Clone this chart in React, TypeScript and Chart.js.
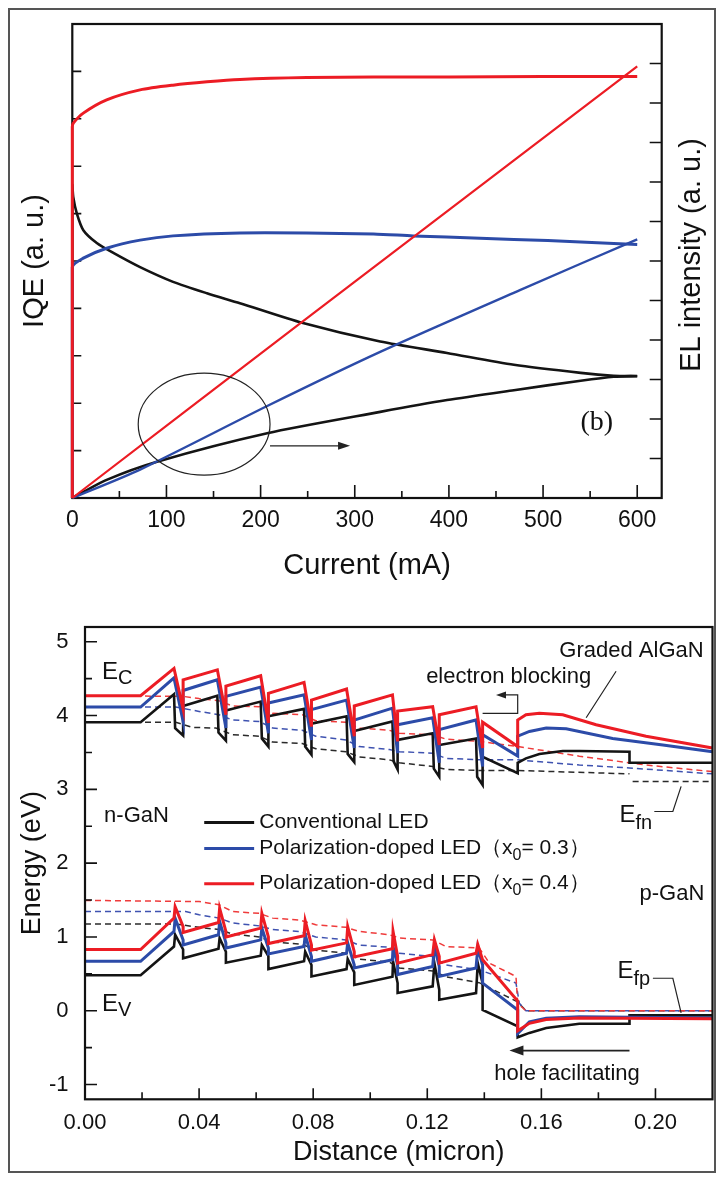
import React, { useEffect, useRef } from 'react';
import { Chart, registerables } from 'chart.js';

Chart.register(...registerables);

const SANS = '"Liberation Sans", Arial, Helvetica, sans-serif';
const SERIF = '"Liberation Serif", "Times New Roman", serif';
const RED = '#ec1c24';
const BLUE = '#2c4ba8';
const BLACK = '#141414';
const RED_D = '#ef3b3b';
const BLUE_D = '#3e52b0';
const BLACK_D = '#2a2a2a';
const INK = '#111111';

// ---------- Panel (b): IQE and EL intensity vs current ----------
const currentTicks = [0, 100, 200, 300, 400, 500, 600];
const currentMinorTicks = [50, 150, 250, 350, 450, 550];
const iqeTicks = [1, 2, 3, 4, 5, 6, 7, 8, 9];
const elTicks = [1, 2, 3, 4, 5, 6, 7, 8, 9, 10, 11];

const iqeRedCurrent = [0, 0, 1.1, 11.7, 36.5, 72, 107, 143, 178, 249, 320, 400, 500, 600];
const iqeRedValue = [0, 7.83, 7.91, 8.12, 8.4, 8.61, 8.71, 8.78, 8.83, 8.87, 8.88, 8.88, 8.89, 8.89];
const iqeBlueCurrent = [0, 0, 11.7, 36.5, 72, 107, 178, 249, 320, 362, 433, 505, 575, 600];
const iqeBlueValue = [0, 4.87, 5.06, 5.27, 5.44, 5.53, 5.59, 5.59, 5.57, 5.53, 5.48, 5.43, 5.37, 5.35];
const iqeBlackCurrent = [0, 0, 1, 4.7, 11.7, 26, 43.6, 72, 107, 143, 178, 245, 327, 398, 469, 540, 575, 600];
const iqeBlackValue = [0, 6.6, 6.35, 6.01, 5.65, 5.38, 5.17, 4.87, 4.56, 4.32, 4.11, 3.69, 3.3, 3.06, 2.81, 2.64, 2.58, 2.57];
const elRedCurrent = [0, 242, 600];
const elRedValue = [0, 4.42, 10.93];
const elBlueCurrent = [0, 72, 207, 327, 476, 600];
const elBlueValue = [0, 0.72, 2.33, 3.7, 5.27, 6.55];
const elBlackCurrent = [0, 36.5, 90, 207, 327, 398, 469, 540, 575, 600];
const elBlackValue = [0, 0.46, 0.92, 1.64, 2.18, 2.48, 2.73, 2.97, 3.07, 3.09];

// ---------- Band diagram ----------
const distanceTicks = [0, 0.04, 0.08, 0.12, 0.16, 0.2];
const distanceMinorTicks = [0.02, 0.06, 0.1, 0.14, 0.18];
const energyTicks = [-1, 0, 1, 2, 3, 4, 5];
const energyMinorTicks = [-0.5, 0.5, 1.5, 2.5, 3.5, 4.5];

const cbBlack = [
  [0, 3.91], [0.0195, 3.91], [0.0312, 4.29], [0.0316, 3.83], [0.0344, 3.73], [0.0344, 4.13],
  [0.0464, 4.27], [0.0468, 3.77], [0.0494, 3.66], [0.0494, 4.07],
  [0.0616, 4.19], [0.062, 3.69], [0.0643, 3.58], [0.0643, 3.99],
  [0.0768, 4.09], [0.0772, 3.58], [0.0794, 3.47], [0.0794, 3.89],
  [0.0917, 3.99], [0.0921, 3.48], [0.0944, 3.37], [0.0944, 3.79],
  [0.1078, 3.92], [0.1082, 3.38], [0.1096, 3.27], [0.1096, 3.67],
  [0.1219, 3.76], [0.1223, 3.28], [0.1242, 3.17], [0.1242, 3.6],
  [0.1371, 3.69], [0.1375, 3.17], [0.1394, 3.06], [0.1394, 3.44],
  [0.1517, 3.22], [0.1517, 3.36], [0.1546, 3.42], [0.1593, 3.48], [0.1675, 3.52], [0.1733, 3.52],
  [0.1909, 3.51], [0.1909, 3.36], [0.22, 3.36],
];
const cbBlue = [
  [0, 4.115], [0.0195, 4.115], [0.0312, 4.51], [0.0344, 3.92], [0.0344, 4.34],
  [0.0464, 4.485], [0.0494, 3.83], [0.0494, 4.26],
  [0.0616, 4.385], [0.0643, 3.76], [0.0643, 4.17],
  [0.0768, 4.28], [0.0794, 3.67], [0.0794, 4.08],
  [0.0917, 4.21], [0.0944, 3.56], [0.0944, 3.94],
  [0.1078, 4.1], [0.1096, 3.49], [0.1096, 3.875],
  [0.1219, 3.97], [0.1242, 3.36], [0.1242, 3.81],
  [0.1371, 3.94], [0.1394, 3.31], [0.1394, 3.74],
  [0.1517, 3.45], [0.1517, 3.72], [0.1558, 3.785], [0.1617, 3.83], [0.1687, 3.82],
  [0.185, 3.69], [0.2026, 3.6], [0.22, 3.51],
];
const cbRed = [
  [0, 4.27], [0.0195, 4.27], [0.0312, 4.64], [0.0344, 4.09], [0.0344, 4.485],
  [0.0464, 4.62], [0.0494, 4.01], [0.0494, 4.4],
  [0.0616, 4.54], [0.0643, 3.9], [0.0643, 4.3],
  [0.0768, 4.45], [0.0794, 3.85], [0.0794, 4.21],
  [0.0917, 4.36], [0.0944, 3.72], [0.0944, 4.13],
  [0.1078, 4.28], [0.1096, 3.65], [0.1096, 4.06],
  [0.1219, 4.12], [0.1242, 3.6], [0.1242, 4.01],
  [0.1371, 4.12], [0.1394, 3.56], [0.1394, 3.91],
  [0.1517, 3.58], [0.1517, 3.94], [0.1546, 4.01], [0.1593, 4.03], [0.1675, 4.01],
  [0.1792, 3.875], [0.1967, 3.72], [0.22, 3.56],
];
const vbBlack = [
  [0, 0.48], [0.0195, 0.48], [0.0312, 0.87], [0.0316, 1.03], [0.0344, 0.83], [0.0344, 0.71],
  [0.0468, 0.84], [0.0472, 0.985], [0.0494, 0.8], [0.0494, 0.65],
  [0.0616, 0.745], [0.062, 0.89], [0.0643, 0.74], [0.0643, 0.565],
  [0.0768, 0.67], [0.0772, 0.8], [0.0794, 0.62], [0.0794, 0.465],
  [0.0917, 0.565], [0.0921, 0.7], [0.0944, 0.52], [0.0944, 0.35],
  [0.1078, 0.46], [0.108, 0.67], [0.1096, 0.375], [0.1096, 0.24],
  [0.1219, 0.33], [0.1225, 0.645], [0.1242, 0.285], [0.1242, 0.15],
  [0.1371, 0.24], [0.1377, 0.645], [0.1394, 0.375], [0.1394, 0.01],
  [0.1517, -0.21], [0.1517, -0.36], [0.1558, -0.3], [0.1617, -0.235], [0.1733, -0.176],
  [0.1909, -0.176], [0.1909, -0.063], [0.22, -0.063],
];
const vbBlue = [
  [0, 0.67], [0.0195, 0.67], [0.0312, 1.075], [0.0316, 1.255], [0.0344, 0.96], [0.0344, 0.89],
  [0.0468, 1.03], [0.0472, 1.21], [0.0494, 0.92], [0.0494, 0.85],
  [0.0616, 0.96], [0.062, 1.12], [0.0643, 0.85], [0.0643, 0.77],
  [0.0768, 0.87], [0.0772, 1.03], [0.0794, 0.735], [0.0794, 0.67],
  [0.0917, 0.78], [0.0921, 0.92], [0.0944, 0.62], [0.0944, 0.58],
  [0.1078, 0.69], [0.108, 0.87], [0.1096, 0.62], [0.1096, 0.49],
  [0.1219, 0.6], [0.1225, 0.87], [0.1242, 0.6], [0.1242, 0.465],
  [0.1371, 0.58], [0.1377, 0.85], [0.1394, 0.62], [0.1394, 0.375],
  [0.1517, 0.01], [0.1517, -0.31], [0.1558, -0.15], [0.1617, -0.1], [0.1733, -0.08], [0.22, -0.1],
];
const vbRed = [
  [0, 0.83], [0.0195, 0.83], [0.0312, 1.255], [0.0316, 1.41], [0.0344, 1.14], [0.0344, 1.06],
  [0.0468, 1.196], [0.0472, 1.39], [0.0494, 1.075], [0.0494, 1.0],
  [0.0616, 1.12], [0.062, 1.32], [0.0643, 1.0], [0.0643, 0.91],
  [0.0768, 1.016], [0.0772, 1.22], [0.0794, 0.89], [0.0794, 0.82],
  [0.0917, 0.92], [0.0921, 1.14], [0.0944, 0.8], [0.0944, 0.73],
  [0.1078, 0.84], [0.108, 1.075], [0.1096, 0.735], [0.1096, 0.645],
  [0.1219, 0.76], [0.1225, 0.96], [0.1242, 0.735], [0.1242, 0.645],
  [0.1371, 0.78], [0.1377, 0.9], [0.1394, 0.69],
  [0.1517, 0.13], [0.1517, -0.27], [0.1558, -0.17], [0.1617, -0.12], [0.1733, -0.1], [0.22, -0.11],
];
const efnBlack = [
  [0, 3.91], [0.0318, 3.91], [0.0377, 3.84], [0.0459, 3.83], [0.0517, 3.74], [0.0611, 3.72],
  [0.0658, 3.64], [0.0762, 3.62], [0.0809, 3.55], [0.0915, 3.51], [0.0961, 3.44], [0.1067, 3.4],
  [0.1102, 3.36], [0.1219, 3.31], [0.1266, 3.27], [0.1382, 3.256], [0.1517, 3.256], [0.1909, 3.21],
  [0.1915, null], [0.192, 3.107], [0.22, 3.107],
];
const efnBlue = [
  [0, 4.115], [0.0318, 4.115], [0.04, 4.056], [0.047, 4.01], [0.0517, 3.94], [0.0611, 3.92],
  [0.0658, 3.83], [0.0762, 3.8], [0.0809, 3.72], [0.0915, 3.67], [0.0961, 3.58], [0.1067, 3.54],
  [0.1102, 3.51], [0.1219, 3.49], [0.1266, 3.42], [0.1382, 3.4], [0.1517, 3.4], [0.1733, 3.33],
  [0.1909, 3.29], [0.22, 3.21],
];
const efnRed = [
  [0, 4.27], [0.0344, 4.26], [0.04, 4.23], [0.047, 4.2], [0.0517, 4.13], [0.0611, 4.12],
  [0.0658, 4.03], [0.0762, 4.01], [0.0809, 3.93], [0.0915, 3.91], [0.0961, 3.83], [0.1067, 3.8],
  [0.1102, 3.76], [0.1219, 3.74], [0.1266, 3.68], [0.1382, 3.65], [0.1517, 3.58], [0.1733, 3.45],
  [0.1967, 3.33], [0.22, 3.24],
];
const efpBlack = [
  [0, 1.175], [0.0318, 1.175], [0.04, 1.13], [0.047, 1.1], [0.0517, 1.04], [0.0611, 1.0],
  [0.0658, 0.93], [0.0762, 0.9], [0.0809, 0.82], [0.0915, 0.78], [0.0961, 0.7], [0.1067, 0.66],
  [0.1102, 0.58], [0.1219, 0.54], [0.1266, 0.46], [0.1382, 0.38], [0.1517, 0.12], [0.1546, 0.0],
  [0.22, 0.0],
];
const efpBlue = [
  [0, 1.345], [0.0353, 1.345], [0.04, 1.3], [0.047, 1.255], [0.0517, 1.19], [0.0611, 1.15],
  [0.0658, 1.1], [0.0751, 1.075], [0.0809, 1.0], [0.0915, 0.96], [0.0961, 0.89], [0.1067, 0.86],
  [0.1102, 0.78], [0.1219, 0.735], [0.1266, 0.62], [0.1382, 0.555], [0.1511, 0.375], [0.1523, 0.1],
  [0.1546, 0.0], [0.22, 0.0],
];
const efpRed = [
  [0, 1.495], [0.04, 1.48], [0.047, 1.436], [0.0517, 1.345], [0.0611, 1.32], [0.0658, 1.255],
  [0.0751, 1.23], [0.0809, 1.165], [0.0915, 1.13], [0.0961, 1.075], [0.1067, 1.03], [0.1102, 0.985],
  [0.1219, 0.96], [0.1266, 0.87], [0.1382, 0.85], [0.1418, 0.645], [0.1511, 0.465], [0.1517, 0.1],
  [0.1546, 0.0], [0.22, 0.0],
];

const legendMain = ['Conventional LED', 'Polarization-doped LED（x', 'Polarization-doped LED（x'];
const legendSub = ['', '0', '0'];
const legendTail = ['', '= 0.3）', '= 0.4）'];
const legendColors = [BLACK, BLUE, RED];

// ---------- helpers ----------
const toPoints = (xs: number[], ys: number[]) => xs.map((x, i) => ({ x, y: ys[i] }));
const pairPoints = (pairs: (number | null)[][]) => pairs.map(([x, y]) => ({ x, y }));

function arrowHead(ctx: CanvasRenderingContext2D, tx: number, ty: number, dx: number, dy: number, len: number, half: number) {
  const nx = -dy;
  const ny = dx;
  ctx.beginPath();
  ctx.moveTo(tx, ty);
  ctx.lineTo(tx - dx * len + nx * half, ty - dy * len + ny * half);
  ctx.lineTo(tx - dx * len - nx * half, ty - dy * len - ny * half);
  ctx.closePath();
  ctx.fill();
}

function subText(ctx: CanvasRenderingContext2D, x: number, y: number, main: string, sub: string, tail: string, size: number, subSize: number, drop: number) {
  ctx.textAlign = 'left';
  ctx.textBaseline = 'alphabetic';
  ctx.font = `${size}px ${SANS}`;
  ctx.fillText(main, x, y);
  let w = ctx.measureText(main).width;
  if (sub) {
    ctx.font = `${subSize}px ${SANS}`;
    ctx.fillText(sub, x + w, y + drop);
    w += ctx.measureText(sub).width;
  }
  if (tail) {
    ctx.font = `${size}px ${SANS}`;
    ctx.fillText(tail, x + w, y);
  }
}

const topDecor = {
  id: 'topDecor',
  beforeDatasetsDraw(chart: any) {
    const { ctx, chartArea: a, scales } = chart;
    const xs = scales.x;
    const yl = scales.yL;
    const yr = scales.yR;
    ctx.save();
    ctx.strokeStyle = INK;
    ctx.lineWidth = 1.6;
    ctx.beginPath();
    currentTicks.forEach((v) => { const p = xs.getPixelForValue(v); ctx.moveTo(p, a.bottom); ctx.lineTo(p, a.bottom - 13); });
    currentMinorTicks.forEach((v) => { const p = xs.getPixelForValue(v); ctx.moveTo(p, a.bottom); ctx.lineTo(p, a.bottom - 7); });
    iqeTicks.forEach((v) => { const p = yl.getPixelForValue(v); ctx.moveTo(a.left, p); ctx.lineTo(a.left + 9, p); });
    elTicks.forEach((v) => { const p = yr.getPixelForValue(v); ctx.moveTo(a.right, p); ctx.lineTo(a.right - 12, p); });
    ctx.stroke();
    ctx.lineWidth = 2.2;
    ctx.strokeRect(a.left, a.top, a.width, a.height);
    ctx.restore();
  },
  afterDatasetsDraw(chart: any) {
    const { ctx, chartArea: a, scales } = chart;
    const xs = scales.x;
    const yr = scales.yR;
    ctx.save();
    // circle marking the EL curves, with arrow to the right axis
    const cx = xs.getPixelForValue(140);
    const cy = yr.getPixelForValue(1.87);
    const rx = xs.getPixelForValue(210) - cx;
    const ry = cy - yr.getPixelForValue(1.87 + 1.29);
    ctx.lineWidth = 1.2;
    ctx.strokeStyle = '#222';
    ctx.beginPath();
    ctx.ellipse(cx, cy, rx, ry, 0, 0, Math.PI * 2);
    ctx.stroke();
    const ay = yr.getPixelForValue(1.32);
    const ax0 = xs.getPixelForValue(210);
    const ax1 = xs.getPixelForValue(295);
    ctx.beginPath();
    ctx.moveTo(ax0, ay);
    ctx.lineTo(ax1 - 8, ay);
    ctx.stroke();
    ctx.fillStyle = '#222';
    arrowHead(ctx, ax1, ay, 1, 0, 12, 4);

    ctx.fillStyle = INK;
    ctx.font = `28px ${SERIF}`;
    ctx.textAlign = 'center';
    ctx.textBaseline = 'middle';
    ctx.fillText('(b)', xs.getPixelForValue(557), yr.getPixelForValue(1.9));

    // right axis title (reads bottom to top)
    ctx.save();
    ctx.translate(a.right + 30.3, (a.top + a.bottom) / 2 - 6);
    ctx.rotate(-Math.PI / 2);
    ctx.font = `29px ${SANS}`;
    ctx.fillText('EL intensity (a. u.)', 0, 0);
    ctx.restore();
    ctx.restore();
  },
};

const bottomDecor = {
  id: 'bottomDecor',
  afterDatasetsDraw(chart: any) {
    const { ctx, chartArea: a, scales } = chart;
    const X = (v: number) => scales.x.getPixelForValue(v);
    const Y = (v: number) => scales.y.getPixelForValue(v);
    ctx.save();
    ctx.strokeStyle = INK;
    ctx.lineWidth = 1.6;
    ctx.beginPath();
    distanceTicks.forEach((v) => { ctx.moveTo(X(v), a.bottom); ctx.lineTo(X(v), a.bottom - 11); });
    distanceMinorTicks.forEach((v) => { ctx.moveTo(X(v), a.bottom); ctx.lineTo(X(v), a.bottom - 7); });
    energyTicks.forEach((v) => { ctx.moveTo(a.left, Y(v)); ctx.lineTo(a.left + 12, Y(v)); });
    energyMinorTicks.forEach((v) => { ctx.moveTo(a.left, Y(v)); ctx.lineTo(a.left + 7, Y(v)); });
    ctx.stroke();
    ctx.lineWidth = 2.2;
    ctx.strokeRect(a.left, a.top, a.width, a.height);

    // legend
    const rows = [2.55, 2.2, 1.72];
    legendMain.forEach((m, i) => {
      const y = Y(rows[i]);
      ctx.strokeStyle = legendColors[i];
      ctx.lineWidth = 3;
      ctx.beginPath();
      ctx.moveTo(X(0.0418), y);
      ctx.lineTo(X(0.0593), y);
      ctx.stroke();
      ctx.fillStyle = INK;
      subText(ctx, X(0.0611), y + 5.5, m, legendSub[i], legendTail[i], 21, 16, 6);
    });

    // labels
    ctx.fillStyle = INK;
    subText(ctx, X(0.006), Y(4.5), 'E', 'C', '', 24, 20, 5);
    subText(ctx, X(0.006), Y(0.0), 'E', 'V', '', 24, 20, 5);
    subText(ctx, X(0.0067), Y(2.56), 'n-GaN', '', '', 22, 16, 0);
    subText(ctx, X(0.1944), Y(1.5), 'p-GaN', '', '', 22, 16, 0);
    subText(ctx, X(0.1663), Y(4.8), 'Graded AlGaN', '', '', 22, 16, 0);
    subText(ctx, X(0.1196), Y(4.44), 'electron blocking', '', '', 22, 16, 0);
    subText(ctx, X(0.1435), Y(-0.935), 'hole facilitating', '', '', 22, 16, 0);
    subText(ctx, X(0.1874), Y(2.56), 'E', 'fn', '', 24, 20, 7);
    subText(ctx, X(0.1867), Y(0.45), 'E', 'fp', '', 24, 20, 7);

    // leader lines and arrows
    ctx.strokeStyle = '#222';
    ctx.fillStyle = '#222';
    ctx.lineWidth = 1.2;
    ctx.beginPath();
    ctx.moveTo(X(0.1862), Y(4.6));
    ctx.lineTo(X(0.1757), Y(3.97));
    ctx.moveTo(X(0.1996), Y(2.7));
    ctx.lineTo(X(0.2061), Y(2.7));
    ctx.lineTo(X(0.209), Y(3.04));
    ctx.moveTo(X(0.1991), Y(0.44));
    ctx.lineTo(X(0.2061), Y(0.44));
    ctx.lineTo(X(0.209), Y(-0.03));
    // electron blocking bracket
    ctx.moveTo(X(0.1394), Y(4.03));
    ctx.lineTo(X(0.1517), Y(4.03));
    ctx.lineTo(X(0.1517), Y(4.28));
    ctx.lineTo(X(0.1441) + 8, Y(4.28));
    ctx.stroke();
    arrowHead(ctx, X(0.1441), Y(4.28), -1, 0, 10, 3.5);
    // hole facilitating arrow
    ctx.lineWidth = 1.6;
    ctx.beginPath();
    ctx.moveTo(X(0.1909), Y(-0.54));
    ctx.lineTo(X(0.1488) + 10, Y(-0.54));
    ctx.stroke();
    arrowHead(ctx, X(0.1488), Y(-0.54), -1, 0, 14, 5);
    ctx.restore();
  },
};

const tickFont = (size: number) => ({ family: SANS, size });

function topConfig(): any {
  const ds = (xs: number[], ys: number[], color: string, width: number, axis: string) => ({
    data: toPoints(xs, ys),
    borderColor: color,
    borderWidth: width,
    pointRadius: 0,
    tension: 0.25,
    fill: false,
    clip: 3,
    yAxisID: axis,
  });
  return {
    type: 'line',
    data: {
      datasets: [
        ds(iqeRedCurrent, iqeRedValue, RED, 3, 'yL'),
        ds(elRedCurrent, elRedValue, RED, 2.2, 'yR'),
        ds(iqeBlueCurrent, iqeBlueValue, BLUE, 3, 'yL'),
        ds(elBlueCurrent, elBlueValue, BLUE, 2.4, 'yR'),
        ds(iqeBlackCurrent, iqeBlackValue, BLACK, 2.6, 'yL'),
        ds(elBlackCurrent, elBlackValue, BLACK, 2.6, 'yR'),
      ],
    },
    options: {
      responsive: false,
      animation: false,
      events: [],
      layout: { padding: { top: 16, left: 0, right: 0, bottom: 0 } },
      plugins: { legend: { display: false }, tooltip: { enabled: false } },
      scales: {
        x: {
          type: 'linear',
          min: 0,
          max: 626,
          grid: { display: false, drawTicks: false },
          border: { display: false },
          afterBuildTicks: (s: any) => { s.ticks = currentTicks.map((v) => ({ value: v })); },
          afterFit: (s: any) => { s.height = 92; },
          ticks: { font: tickFont(23), color: INK, padding: 9.2, maxRotation: 0, callback: (v: any) => String(v) },
          title: { display: true, text: 'Current (mA)', font: { family: SANS, size: 29 }, color: INK, padding: { top: 0, bottom: 6.6 } },
        },
        yL: {
          type: 'linear',
          position: 'left',
          min: 0,
          max: 10,
          grid: { display: false, drawTicks: false },
          border: { display: false },
          ticks: { display: false },
          afterFit: (s: any) => { s.width = 64.3; },
          title: { display: true, text: 'IQE (a. u.)', font: { family: SANS, size: 29 }, color: INK, padding: { top: 9.6, bottom: 0 } },
        },
        yR: {
          type: 'linear',
          position: 'right',
          min: 0,
          max: 12,
          grid: { display: false, drawTicks: false },
          border: { display: false },
          ticks: { display: false },
          afterFit: (s: any) => { s.width = 54.3; },
        },
      },
    },
    plugins: [topDecor],
  };
}

function bottomConfig(): any {
  const ds = (pairs: (number | null)[][], color: string, width: number, dash: number[]) => ({
    data: pairPoints(pairs),
    borderColor: color,
    borderWidth: width,
    borderDash: dash,
    pointRadius: 0,
    tension: 0,
    fill: false,
    spanGaps: false,
  });
  const dash = [6, 4];
  return {
    type: 'line',
    data: {
      datasets: [
        ds(cbRed, RED, 3, []),
        ds(vbRed, RED, 3, []),
        ds(cbBlue, BLUE, 3, []),
        ds(vbBlue, BLUE, 3, []),
        ds(cbBlack, BLACK, 2.6, []),
        ds(vbBlack, BLACK, 2.6, []),
        ds(efnRed, RED_D, 1.5, dash),
        ds(efpRed, RED_D, 1.5, dash),
        ds(efnBlue, BLUE_D, 1.5, dash),
        ds(efpBlue, BLUE_D, 1.5, dash),
        ds(efnBlack, BLACK_D, 1.5, dash),
        ds(efpBlack, BLACK_D, 1.5, dash),
      ],
    },
    options: {
      responsive: false,
      animation: false,
      events: [],
      layout: { padding: { top: 37, left: 0, right: 3.5, bottom: 0 } },
      plugins: { legend: { display: false }, tooltip: { enabled: false } },
      scales: {
        x: {
          type: 'linear',
          min: 0,
          max: 0.22,
          grid: { display: false, drawTicks: false },
          border: { display: false },
          afterBuildTicks: (s: any) => { s.ticks = distanceTicks.map((v) => ({ value: v })); },
          afterFit: (s: any) => { s.height = 73.7; },
          ticks: { font: tickFont(22), color: INK, padding: 10.5, maxRotation: 0, callback: (v: any) => Number(v).toFixed(2) },
          title: { display: true, text: 'Distance (micron)', font: { family: SANS, size: 27 }, color: INK, padding: { top: 0, bottom: 3.8 } },
        },
        y: {
          type: 'linear',
          position: 'left',
          min: -1.2,
          max: 5.2,
          grid: { display: false, drawTicks: false },
          border: { display: false },
          afterBuildTicks: (s: any) => { s.ticks = energyTicks.map((v) => ({ value: v })); },
          afterFit: (s: any) => { s.width = 77; },
          ticks: { font: tickFont(22), color: INK, padding: 16.5, callback: (v: any) => String(v) },
          title: { display: true, text: 'Energy (eV)', font: { family: SANS, size: 27 }, color: INK, padding: { top: 8.8, bottom: 0 } },
        },
      },
    },
    plugins: [bottomDecor],
  };
}

export default function App() {
  const topRef = useRef<HTMLCanvasElement>(null);
  const botRef = useRef<HTMLCanvasElement>(null);
  useEffect(() => {
    const c1 = new Chart(topRef.current as HTMLCanvasElement, topConfig());
    const c2 = new Chart(botRef.current as HTMLCanvasElement, bottomConfig());
    return () => {
      c1.destroy();
      c2.destroy();
    };
  }, []);
  return (
    <div style={{ position: 'relative', width: 708, height: 1165, background: '#fff' }}>
      <div style={{ position: 'absolute', left: 0, top: 0, width: 708, height: 1165, border: '2px solid #555', boxSizing: 'border-box' }} />
      <canvas ref={topRef} width={708} height={582} style={{ position: 'absolute', left: 0, top: 0 }} />
      <canvas ref={botRef} width={708} height={583} style={{ position: 'absolute', left: 0, top: 582 }} />
    </div>
  );
}
